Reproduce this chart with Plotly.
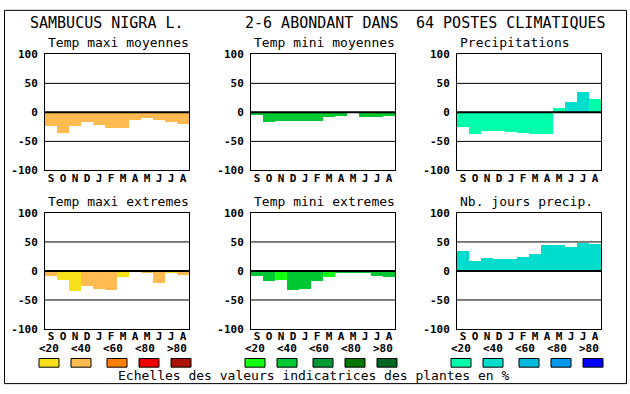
import plotly.graph_objects as go

W, H = 630, 394

# ---------------- data ----------------
months = ["S", "O", "N", "D", "J", "F", "M", "A", "M", "J", "J", "A"]
y_ticks = [-100, -50, 0, 50, 100]
y_ticktext = ["-100", "-50", "0", "50", "100"]

titles = ["Temp maxi moyennes", "Temp mini moyennes", "Precipitations",
          "Temp maxi extremes", "Temp mini extremes", "Nb. jours precip."]

tmax_moy = [-24, -36, -24, -18, -23, -28, -28, -14, -11, -14, -18, -21]
tmax_moy_cls = [1, 1, 1, 1, 1, 1, 1, 1, 1, 1, 1, 1]
tmin_moy = [-5, -18, -16, -16, -16, -16, -8, -6, 0, -8, -8, -6]
tmin_moy_cls = [1, 1, 1, 1, 1, 1, 1, 1, 1, 1, 1, 1]
precip = [-26, -38, -33, -33, -34, -36, -38, -38, 7, 17, 35, 22]
precip_cls = [0, 0, 0, 0, 0, 0, 0, 0, 0, 1, 1, 0]
tmax_ext = [-8, -16, -35, -26, -31, -33, -11, 2, -3, -21, -4, -6]
tmax_ext_cls = [1, 0, 0, 1, 1, 1, 0, 1, 1, 1, 0, 1]
tmin_ext = [-8, -18, -16, -33, -31, -18, -11, -4, -4, -4, -8, -11]
tmin_ext_cls = [1, 1, 0, 1, 1, 1, 0, 1, 1, 1, 1, 1]
njours = [34, 17, 22, 21, 21, 24, 30, 44, 44, 42, 49, 47]
njours_cls = [1, 1, 1, 1, 1, 1, 1, 1, 1, 1, 1, 1]

scale_labels = ["<20", "<40", "<60", "<80", ">80"]
warm_colors = ["#F8E11A", "#FFBB50", "#FF7F00", "#EE0000", "#AA1100"]
green_colors = ["#11FF11", "#00C832", "#009933", "#007700", "#006622"]
blue_colors = ["#00FFAA", "#00DDCC", "#00BBDD", "#0099EE", "#0000FF"]

title_parts = ["SAMBUCUS NIGRA L.", "2-6 ABONDANT DANS", "64 POSTES CLIMATIQUES"]
footer = "Echelles des valeurs indicatrices des plantes en %"

panels = [
    (tmax_moy, tmax_moy_cls, warm_colors),
    (tmin_moy, tmin_moy_cls, green_colors),
    (precip, precip_cls, blue_colors),
    (tmax_ext, tmax_ext_cls, warm_colors),
    (tmin_ext, tmin_ext_cls, green_colors),
    (njours, njours_cls, blue_colors),
]

# ---------------- layout helpers ----------------
MONO = "DejaVu Sans Mono"
BOLD = dict(family=MONO, size=11, weight="bold", color="black")
def px(x):
    return x / W
def py(y):
    return 1 - y / H

col_left = [45, 251, 457]
plot_w = 144
row_top = [50, 214]
plot_h = 120

fig = go.Figure()
layout = dict(
    width=W, height=H, margin=dict(l=0, r=0, t=0, b=0),
    paper_bgcolor="white", plot_bgcolor="white",
    showlegend=False, bargap=0,
    font=dict(family=MONO, color="black"),
)
shapes = []
annotations = []

for i, (vals, cls, pal) in enumerate(panels):
    r, c = divmod(i, 3)
    k = i + 1
    xa = "x" if k == 1 else f"x{k}"
    ya = "y" if k == 1 else f"y{k}"
    fig.add_trace(go.Bar(
        x=list(range(12)), y=vals, width=1,
        marker=dict(color=[pal[j] for j in cls], line=dict(width=0)),
        xaxis=xa, yaxis=ya, hoverinfo="skip",
    ))
    x0, x1 = col_left[c], col_left[c] + plot_w
    y0, y1 = row_top[r], row_top[r] + plot_h
    layout[f"xaxis{'' if k == 1 else k}"] = dict(
        domain=[px(x0), px(x1)], anchor=ya, range=[-0.5, 11.5],
        tickvals=list(range(12)), ticktext=months, ticks="",
        tickfont=BOLD, ticklabelstandoff=-3,
        showgrid=False, zeroline=False, showline=True, mirror=True,
        linecolor="black", linewidth=1, fixedrange=True,
    )
    layout[f"yaxis{'' if k == 1 else k}"] = dict(
        domain=[py(y1), py(y0)], anchor=xa, range=[-100, 100],
        tickvals=y_ticks, ticktext=y_ticktext, ticks="",
        tickfont=BOLD, ticklabelstandoff=4,
        showgrid=False, zeroline=False, showline=True, mirror=True,
        linecolor="black", linewidth=1, fixedrange=True,
    )
    for v in [50, 0, -50]:
        shapes.append(dict(type="line", xref=f"{xa} domain", yref=ya,
                           x0=0, x1=1, y0=v, y1=v, layer="above",
                           line=dict(color="black", width=2 if v == 0 else 1)))
    annotations.append(dict(
        text=titles[i], xref="paper", yref="paper",
        x=px(x0 + 1), y=py(y0 - 12), xanchor="left", yanchor="middle",
        showarrow=False, font=dict(family=MONO, size=13, color="black"),
    ))

# main title
for txt, xl in zip(title_parts, [27.5, 243, 414]):
    annotations.append(dict(
        text=txt, xref="paper", yref="paper", x=px(xl), y=py(18),
        xanchor="left", yanchor="middle", showarrow=False,
        font=dict(family=MONO, size=15, color="black"),
    ))

# colour scales
label_off = [10, 42, 74, 106, 138]
box_off = [0, 32, 68, 100, 132]
for g, pal in enumerate([warm_colors, green_colors, blue_colors]):
    s = col_left[g] - 6
    for j in range(5):
        annotations.append(dict(
            text=scale_labels[j], xref="paper", yref="paper",
            x=px(s + label_off[j]), y=py(354.5), xanchor="center", yanchor="middle",
            showarrow=False, font=BOLD,
        ))
        shapes.append(dict(
            type="rect", xref="paper", yref="paper",
            x0=px(s + box_off[j]), x1=px(s + box_off[j] + 20),
            y0=py(373.5), y1=py(364.5),
            fillcolor=pal[j], line=dict(color="black", width=1),
        ))

annotations.append(dict(
    text=footer, xref="paper", yref="paper", x=px(314), y=py(382.5),
    xanchor="center", yanchor="middle", showarrow=False,
    font=dict(family=MONO, size=13, color="black"),
))

# outer frame
shapes.append(dict(type="rect", xref="paper", yref="paper",
                   x0=px(4.5), x1=px(626.5), y0=py(390.5), y1=py(4.5),
                   line=dict(color="black", width=1), fillcolor="rgba(0,0,0,0)"))

layout["shapes"] = shapes
layout["annotations"] = annotations
fig.update_layout(**layout)

post = """
var st = document.createElement('style');
st.textContent = 'html,body{margin:0;padding:0;overflow:hidden;width:630px;height:394px;}';
document.head.appendChild(st);
var gd = document.getElementsByClassName('plotly-graph-div')[0];
gd.style.position = 'absolute'; gd.style.left = '0px'; gd.style.top = '0px';
"""
fig.write_html("out.html", config={"displayModeBar": False}, post_script=post)
